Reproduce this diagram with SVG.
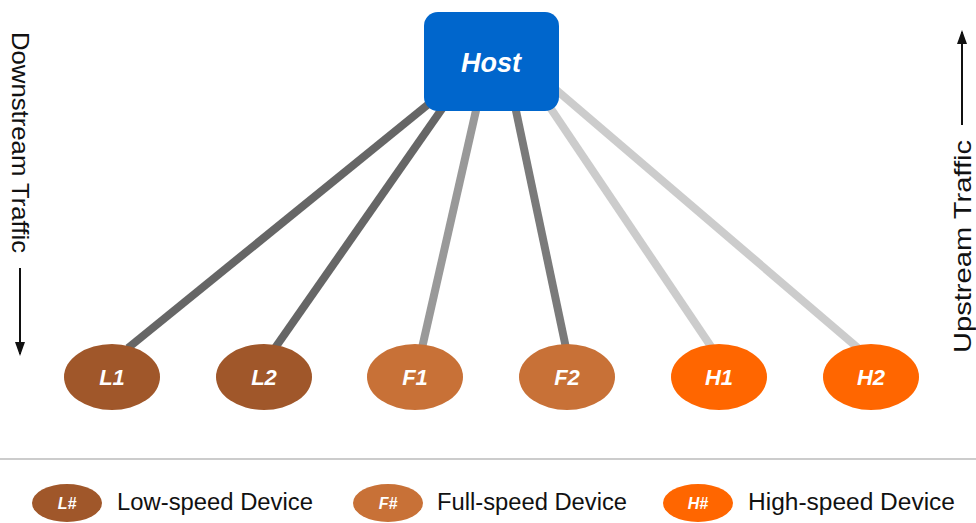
<svg xmlns="http://www.w3.org/2000/svg" width="976" height="523" viewBox="0 0 976 523">
  <style>
    .lbl { font-family: "Liberation Sans", Arial, sans-serif; font-weight: bold; font-style: italic; fill: #ffffff; text-anchor: middle; }
    .side { font-family: "Liberation Sans", Arial, sans-serif; font-size: 24px; fill: #111111; }
    .legend { font-family: "Liberation Sans", Arial, sans-serif; font-size: 23px; fill: #111111; }
    .low { fill: #A0572A; }
    .full { fill: #C87137; }
    .high { fill: #FF6600; }
    .link { stroke-width: 8; fill: none; }
  </style>
  <defs>
    <marker id="arrow" viewBox="0 0 14 10" refX="12" refY="5" markerWidth="7" markerHeight="5" orient="auto" markerUnits="strokeWidth">
      <path d="M0,0 L14,5 L0,10 z" fill="#111111"/>
    </marker>
  </defs>
  <rect width="976" height="523" fill="#ffffff"/>

  <!-- connectors from host to each device -->
  <g id="connectors">
    <line class="link" x1="128" y1="348" x2="436" y2="98" stroke="#666666"/>
    <line class="link" x1="275" y1="348" x2="444" y2="106" stroke="#666666"/>
    <line class="link" x1="422" y1="348" x2="477" y2="106" stroke="#999999"/>
    <line class="link" x1="566" y1="348" x2="515" y2="106" stroke="#7a7a7a"/>
    <line class="link" x1="712" y1="348" x2="545" y2="100" stroke="#cccccc"/>
    <line class="link" x1="858" y1="348" x2="554" y2="88" stroke="#cccccc"/>
  </g>

  <g id="host">
    <rect x="424" y="12" width="135" height="99" rx="14" fill="#0066CC"/>
    <text class="lbl" x="491" y="72" font-size="27">Host</text>
  </g>

  <g id="L1">
    <ellipse class="low" cx="112" cy="377" rx="48" ry="33"/>
    <text class="lbl" x="112" y="385" font-size="22">L1</text>
  </g>
  <g id="L2">
    <ellipse class="low" cx="264" cy="377" rx="48" ry="33"/>
    <text class="lbl" x="264" y="385" font-size="22">L2</text>
  </g>
  <g id="F1">
    <ellipse class="full" cx="415" cy="377" rx="48" ry="33"/>
    <text class="lbl" x="415" y="385" font-size="22">F1</text>
  </g>
  <g id="F2">
    <ellipse class="full" cx="567" cy="377" rx="48" ry="33"/>
    <text class="lbl" x="567" y="385" font-size="22">F2</text>
  </g>
  <g id="H1">
    <ellipse class="high" cx="719" cy="377" rx="48" ry="33"/>
    <text class="lbl" x="719" y="385" font-size="22">H1</text>
  </g>
  <g id="H2">
    <ellipse class="high" cx="871" cy="377" rx="48" ry="33"/>
    <text class="lbl" x="871" y="385" font-size="22">H2</text>
  </g>

  <!-- traffic direction labels -->
  <g id="downstream">
    <text class="side" transform="translate(12,32) rotate(90)" textLength="221" lengthAdjust="spacingAndGlyphs">Downstream Traffic</text>
    <line x1="20" y1="268" x2="20" y2="354" stroke="#111111" stroke-width="2" marker-end="url(#arrow)"/>
  </g>
  <g id="upstream">
    <text class="side" transform="translate(971,353) rotate(-90)" textLength="213" lengthAdjust="spacingAndGlyphs">Upstream Traffic</text>
    <line x1="962" y1="125" x2="962" y2="32" stroke="#111111" stroke-width="2" marker-end="url(#arrow)"/>
  </g>

  <!-- legend -->
  <line x1="0" y1="459" x2="976" y2="459" stroke="#cccccc" stroke-width="2"/>
  <g id="legend-low">
    <ellipse class="low" cx="67" cy="503" rx="35" ry="19"/>
    <text class="lbl" x="67" y="509" font-size="16">L#</text>
    <text class="legend" x="117" y="510" textLength="196" lengthAdjust="spacingAndGlyphs">Low-speed Device</text>
  </g>
  <g id="legend-full">
    <ellipse class="full" cx="388" cy="503" rx="35" ry="19"/>
    <text class="lbl" x="388" y="509" font-size="16">F#</text>
    <text class="legend" x="437" y="510" textLength="190" lengthAdjust="spacingAndGlyphs">Full-speed Device</text>
  </g>
  <g id="legend-high">
    <ellipse class="high" cx="698" cy="503" rx="35" ry="19"/>
    <text class="lbl" x="698" y="509" font-size="16">H#</text>
    <text class="legend" x="748" y="510" textLength="207" lengthAdjust="spacingAndGlyphs">High-speed Device</text>
  </g>
</svg>
